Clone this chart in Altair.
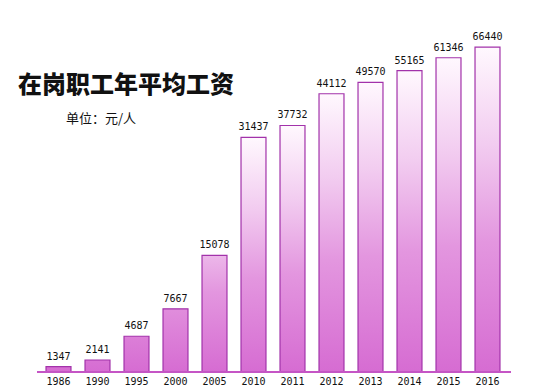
import altair as alt
import pandas as pd
import numpy as np

years = ["1986", "1990", "1995", "2000", "2005", "2010", "2011", "2012", "2013", "2014", "2015", "2016"]
wages = [1347, 2141, 4687, 7667, 15078, 31437, 37732, 44112, 49570, 55165, 61346, 66440]

title_text = "在岗职工年平均工资"
unit_text = "单位：元/人"

df = pd.DataFrame({"year": years, "wage": wages})

W, H = 468, 364
# piecewise (non-proportional) value axis as drawn in the original
dom = [0, 1500, 7500, 31500, 38000, 44000, 66500]
hts = [0, 6, 62, 235, 247, 278, 325]
rng = [H - h for h in hts]

xs = alt.X("year:N", sort=years, title=None,
           scale=alt.Scale(paddingInner=0.36, paddingOuter=0.18),
           axis=alt.Axis(domain=False, ticks=False, labelAngle=0, labelPadding=4,
                         labelFont="DejaVu Sans Mono", labelFontSize=10,
                         labelColor="#111111", labelBaseline="top"))
ys = alt.Y("wage:Q", title=None, axis=None,
           scale=alt.Scale(domain=dom, range=rng, clamp=False, nice=False, zero=False))

stops = [
    alt.GradientStop(offset=0.0, color="#fff8fe"),
    alt.GradientStop(offset=0.3, color="#f2ccf0"),
    alt.GradientStop(offset=0.6, color="#e396df"),
    alt.GradientStop(offset=1.0, color="#d66cd2"),
]

layers = []
for yr, v in zip(years, wages):
    h = float(np.interp(v, dom, hts))
    hv = max(h, 200.0)
    y1 = 1.0 - hv / h
    grad = alt.Gradient(gradient="linear", stops=stops, x1=0, x2=0, y1=y1, y2=1)
    layers.append(
        alt.Chart(df).transform_filter(alt.datum.year == yr)
        .mark_bar(fill=grad, stroke="#a232aa", strokeWidth=1.2)
        .encode(x=xs, y=ys)
    )

labels = alt.Chart(df).mark_text(
    baseline="bottom", dy=-5, font="DejaVu Sans Mono", fontSize=10, color="#111111"
).encode(x=xs, y=ys, text="wage:Q")

base_line = alt.Chart(df).mark_rule(color="#c456c4", strokeWidth=1.5).encode(
    x=alt.value(-2), x2=alt.value(W + 4), y=alt.value(H)
)

title = alt.Chart(pd.DataFrame({"t": [title_text]})).mark_text(
    align="left", baseline="middle", font="Noto Sans CJK SC", fontSize=24,
    fontWeight=900, color="#111111"
).encode(x=alt.value(-21), y=alt.value(78), text="t:N")

unit = alt.Chart(pd.DataFrame({"t": [unit_text]})).mark_text(
    align="left", baseline="middle", font="Noto Sans CJK SC", fontSize=13,
    color="#111111"
).encode(x=alt.value(27), y=alt.value(111), text="t:N")

chart = alt.layer(*layers, labels, base_line, title, unit).properties(
    width=W, height=H,
    background="white",
    autosize=alt.AutoSizeParams(type="none"),
    padding={"left": 31, "top": 0, "right": 30, "bottom": 15},
).configure_view(strokeWidth=0, stroke="transparent")

chart.save("out.html", embed_options={"renderer": "svg", "actions": False})
